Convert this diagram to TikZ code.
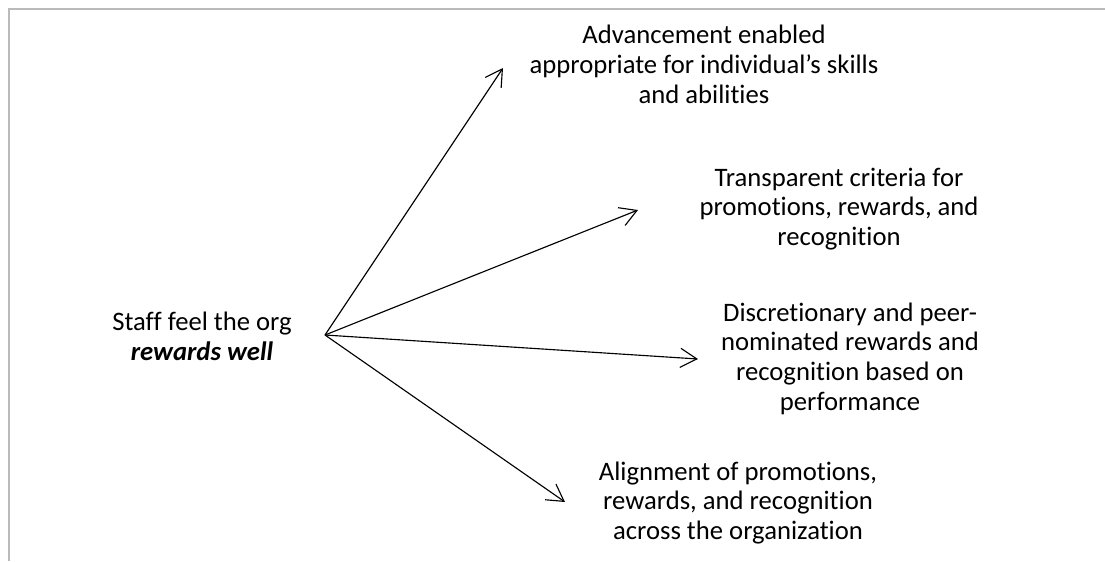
\documentclass[tikz,border=0pt]{standalone}
\usepackage{fontspec}
\setmainfont{Carlito}[Ligatures=NoCommon]
\usetikzlibrary{arrows.meta}
\newcommand{\firstline}{\rule{0pt}{16pt}}
\begin{document}
\begin{tikzpicture}[x=0.75pt,y=-0.75pt,
  txt/.style={align=center,anchor=north,inner sep=0pt,font=\fontsize{20}{22.2}\selectfont},
  conn/.style={line width=0.85pt,-{Straight Barb[length=12.4pt,width=14.3pt,line width=0.85pt]}},
  frame/.style={draw=black!27,line width=1.5pt}]
\useasboundingbox (0,0) rectangle (1105,561);
\draw[frame] (9,561) -- (9,8.5) -- (1105,8.5);

\node[txt] (src) at (202,309.2) {\firstline Staff feel the org\\\textbf{\textit{rewards well}}};
\node[txt] (a) at (704,22.2) {\firstline Advancement enabled\\appropriate for individual’s skills\\and abilities};
\node[txt] (b) at (839,164.7) {\firstline Transparent criteria for\\promotions, rewards, and\\recognition};
\node[txt] (c) at (850,299.7) {\firstline Discretionary and peer-\\nominated rewards and\\recognition based on\\performance};
\node[txt] (d) at (738,458.7) {\firstline Alignment of promotions,\\rewards, and recognition\\across the organization};

\coordinate (hub) at (325,335);
\coordinate (ta) at (503,68);
\coordinate (tb) at (638,210);
\coordinate (tc) at (698,359);
\coordinate (td) at (565,502);

\draw[conn] (hub) -- (ta);
\draw[conn] (hub) -- (tb);
\draw[conn] (hub) -- (tc);
\draw[conn] (hub) -- (td);
\end{tikzpicture}
\end{document}
